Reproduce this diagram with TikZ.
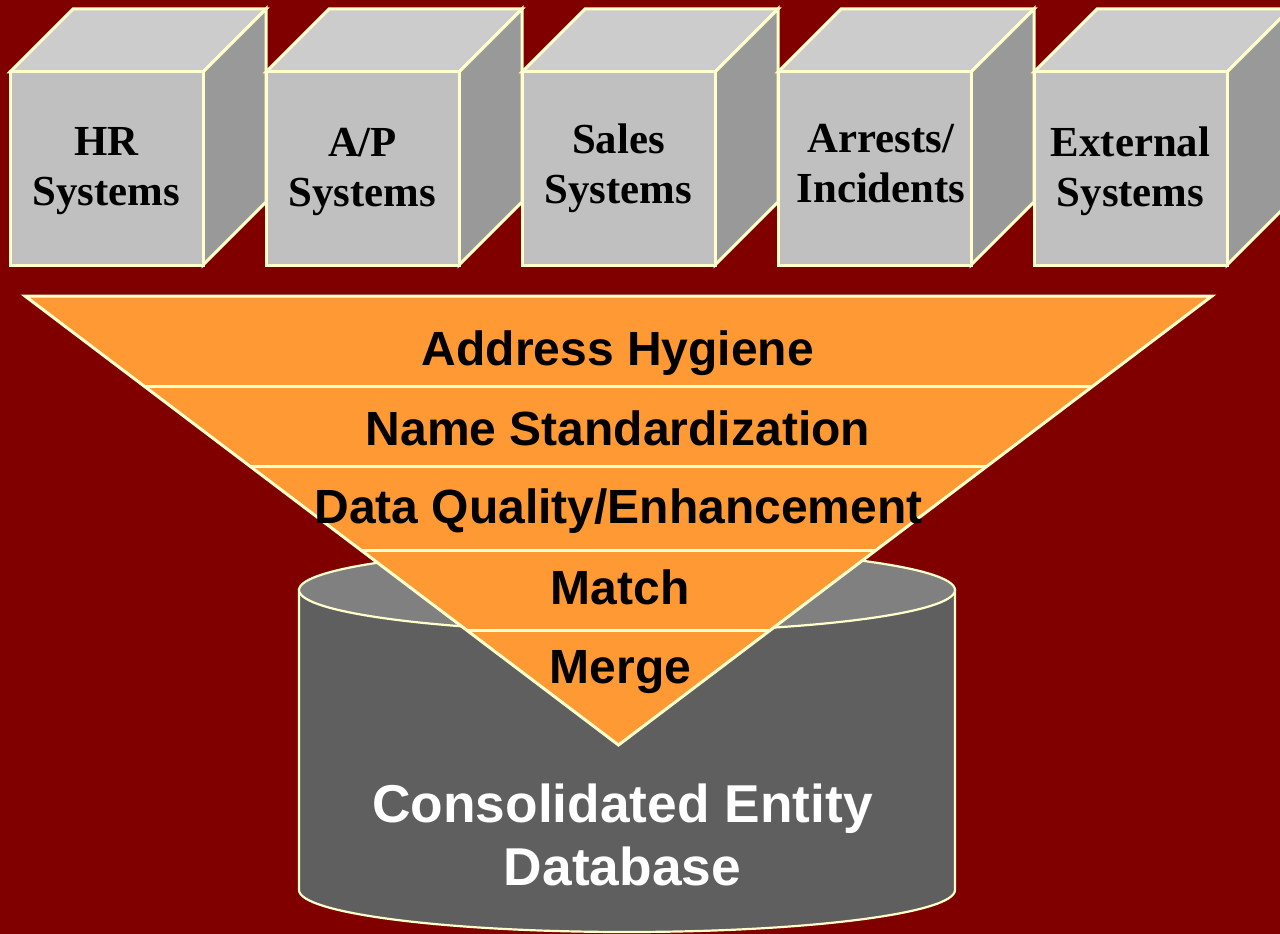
\documentclass[tikz,border=0pt]{standalone}
\usepackage{fontspec}
\setmainfont{Liberation Serif}
\newfontfamily\arialfont{Liberation Sans}
\usepackage{tikz}

\definecolor{bgred}{RGB}{128,0,0}
\definecolor{cream}{RGB}{255,255,204}
\definecolor{cubefront}{RGB}{192,192,192}
\definecolor{cubetop}{RGB}{204,204,204}
\definecolor{cubeside}{RGB}{153,153,153}
\definecolor{funnelorange}{RGB}{255,153,51}
\definecolor{dbtop}{RGB}{128,128,128}
\definecolor{dbbody}{RGB}{95,95,95}

\begin{document}
\begin{tikzpicture}[x=1pt, y=-1pt,
  face/.style={draw=cream, line width=3pt},
  dbline/.style={draw=cream, line width=2.2pt},
  cubetext/.style={align=center, yshift=-3pt, font=\fontsize{42.8}{50}\selectfont\bfseries},
  steptext/.style={anchor=base, font=\arialfont\fontsize{48}{56}\selectfont\bfseries},
  dbtext/.style={align=center, text=white, font=\arialfont\fontsize{53.3}{63}\selectfont\bfseries}]
\useasboundingbox (0,0) rectangle (1280,934);
\clip (0,0) rectangle (1280,934);
\fill[bgred] (0,0) rectangle (1280,934);

\draw[face, fill=cubetop] (10,72) -- (73,9) -- (266,9) -- (203,72) -- cycle;
\draw[face, fill=cubeside] (203,72) -- (266,9) -- (266,202) -- (203,265) -- cycle;
\draw[face, fill=cubefront] (10,72) rectangle (203,265) node[pos=.5, cubetext] (hr) {HR\\Systems};

\draw[face, fill=cubetop] (266,72) -- (329,9) -- (522,9) -- (459,72) -- cycle;
\draw[face, fill=cubeside] (459,72) -- (522,9) -- (522,202) -- (459,265) -- cycle;
\draw[face, fill=cubefront] (266,72) rectangle (459,265) node[pos=.5, cubetext] (ap) {A/P\\Systems};

\draw[face, fill=cubetop] (522,72) -- (585,9) -- (778,9) -- (715,72) -- cycle;
\draw[face, fill=cubeside] (715,72) -- (778,9) -- (778,202) -- (715,265) -- cycle;
\draw[face, fill=cubefront] (522,72) rectangle (715,265) node[pos=.5, cubetext, yshift=3pt] (sales) {Sales\\Systems};

\draw[face, fill=cubetop] (778,72) -- (841,9) -- (1034,9) -- (971,72) -- cycle;
\draw[face, fill=cubeside] (971,72) -- (1034,9) -- (1034,202) -- (971,265) -- cycle;
\draw[face, fill=cubefront] (778,72) rectangle (971,265) node[pos=.5, cubetext, yshift=7.5pt, xshift=6.5pt] (arrests) {Arrests/\\Incidents};

\draw[face, fill=cubetop] (1034,72) -- (1097,9) -- (1290,9) -- (1227,72) -- cycle;
\draw[face, fill=cubeside] (1227,72) -- (1290,9) -- (1290,202) -- (1227,265) -- cycle;
\draw[face, fill=cubefront] (1034,72) rectangle (1227,265) node[pos=.5, cubetext] (external) {External\\Systems};

\draw[dbline, fill=dbbody] (299,590) -- (299,890) arc[start angle=180, end angle=360, x radius=328pt, y radius=42pt] -- (955,590) -- cycle;
\draw[dbline, fill=dbtop] (627,590) ellipse [x radius=328pt, y radius=42pt];
\node[dbtext] (db) at (622.5,834.5) {Consolidated Entity\\Database};

\draw[face, fill=funnelorange] (25,296) -- (1212,296) -- (618.5,745) -- cycle;
\draw[face] (144,386) -- (1093,386);
\draw[face] (249.7,466) -- (987.3,466);
\draw[face] (360.7,550) -- (876.3,550);
\draw[face] (466.5,630) -- (770.5,630);

\node[steptext] (hygiene) at (618,365) {Address Hygiene};
\node[steptext] (namestd) at (618,445) {Name Standardization};
\node[steptext] (quality) at (618.5,523) {Data Quality/Enhancement};
\node[steptext] (match) at (620,604) {Match};
\node[steptext] (merge) at (620.5,683) {Merge};
\end{tikzpicture}
\end{document}
